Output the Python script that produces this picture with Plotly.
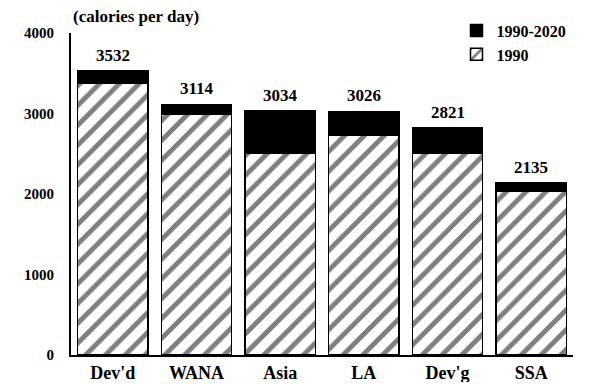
import plotly.graph_objects as go

regions = ["Dev'd", "WANA", "Asia", "LA", "Dev'g", "SSA"]
totals_2020 = [3532, 3114, 3034, 3026, 2821, 2135]
base_1990 = [3370, 2990, 2510, 2730, 2510, 2040]
increase = [t - b for t, b in zip(totals_2020, base_1990)]
y_ticks = [0, 1000, 2000, 3000, 4000]

FONT = "Times New Roman, Liberation Serif, serif"


def f(size):
    return dict(family=FONT, size=size, color="black", weight="bold")


fig = go.Figure()
fig.add_trace(go.Bar(
    x=regions, y=base_1990, name="1990", legendgroup="a", legendrank=2,
    marker=dict(color="white", line=dict(color="black", width=1.5),
                pattern=dict(shape="/", fgcolor="black", bgcolor="white",
                             size=14, solidity=0.35)),
))
fig.add_trace(go.Bar(
    x=regions, y=increase, name="1990-2020", legendgroup="b", legendrank=1,
    marker=dict(color="black", line=dict(color="black", width=1.5)),
))

for r, t in zip(regions, totals_2020):
    fig.add_annotation(x=r, y=t, text=str(t), showarrow=False,
                       yanchor="bottom", yshift=4, font=f(17))

fig.add_annotation(xref="paper", yref="paper", x=0.0, y=1.0, yshift=5,
                   xanchor="left", yanchor="bottom",
                   text="(calories per day)", showarrow=False, font=f(17))

fig.update_layout(
    width=575, height=374,
    margin=dict(l=63, r=10, t=25, b=27, autoexpand=False),
    barmode="stack", bargap=0.16,
    plot_bgcolor="white", paper_bgcolor="white",
    font=f(15),
    legend=dict(x=0.78, y=0.985, xref="container", yref="container",
                xanchor="left", yanchor="top",
                traceorder="normal", bgcolor="rgba(0,0,0,0)",
                font=f(16), itemwidth=30, tracegroupgap=5),
    showlegend=True,
)
fig.update_xaxes(showline=True, linecolor="black", linewidth=2,
                 tickfont=f(18), ticks="")
fig.update_yaxes(range=[0, 4000], tickvals=y_ticks,
                 showline=True, linecolor="black", linewidth=2,
                 showgrid=False, zeroline=False, ticks="",
                 ticklabelstandoff=12, tickfont=f(15))

fig.write_html("out.html")
